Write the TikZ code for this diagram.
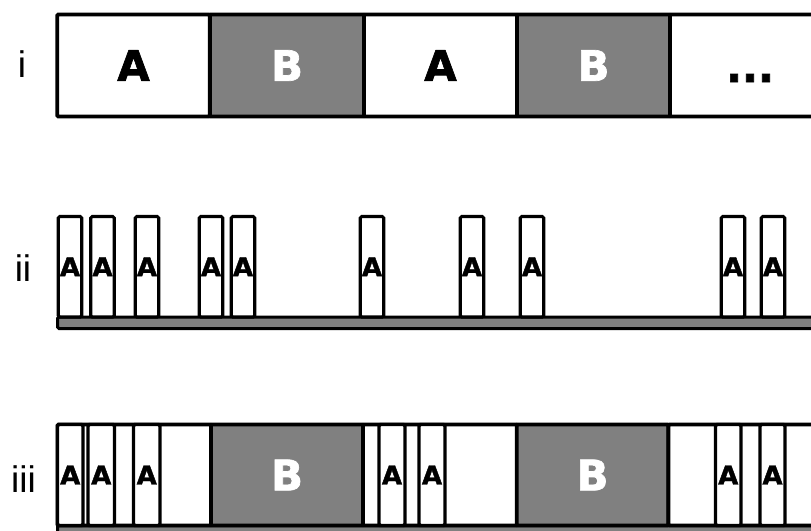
\documentclass[tikz,border=0pt]{standalone}
\usepackage{fontspec}
\setmainfont{DejaVu Sans}[BoldFeatures={FakeBold=1.6}]
\newfontfamily\labfont{Liberation Sans}
\definecolor{bgray}{HTML}{808080}
\begin{document}
\begin{tikzpicture}[x=1pt,y=-1pt,
  cell/.style={rectangle, draw=black, line width=3.7pt, inner sep=0pt, rounded corners=1pt,
    font=\fontsize{42}{42}\selectfont\bfseries},
  cellw/.style={cell, fill=white},
  cellb/.style={cell, fill=bgray, text=white},
  slot/.style={rectangle, draw=black, line width=3.1pt, fill=white, inner sep=0pt, rounded corners=1.5pt,
    font=\fontsize{26}{26}\selectfont\bfseries},
  bar/.style={rectangle, draw=black, line width=3pt, fill=bgray, inner sep=0pt, rounded corners=1.5pt},
  rowlab/.style={inner sep=0pt, font=\labfont\fontsize{37}{37}\selectfont},
]
\useasboundingbox (0,0) rectangle (811,530);
\clip (0,0) rectangle (811,530);

% labels
\node[rowlab] (lab1) at (22,64) {i};
\node[rowlab] (lab2) at (23,268) {ii};
\node[rowlab] (lab3) at (23.5,479) {iii};

% row i
\node[cellw, minimum width=152.5pt, minimum height=102pt] (r1c1) at (133.5,65.5) {A};
\node[cellb, minimum width=154pt, minimum height=102pt] (r1c2) at (287,65.5) {B};
\node[cellw, minimum width=153pt, minimum height=102pt] (r1c3) at (440.5,65.5) {A};
\node[cellb, minimum width=153pt, minimum height=102pt] (r1c4) at (593.5,65.5) {B};
\node[cellw, minimum width=160pt, minimum height=102pt, text height=33pt, text depth=0pt] (r1c5) at (750,65.5) {...};

% row ii
\node[bar, minimum width=780pt, minimum height=11.5pt] (bar2) at (447.5,322.75) {};
\foreach \n/\cx in {1/70, 2/102.5, 3/147, 4/211, 5/243, 6/372, 7/472, 8/532, 9/733, 10/773}{
  \node[slot, minimum width=23.5pt, minimum height=100.5pt] (r2s\n) at (\cx,266.75) {A};
}

% row iii
\node[bar, minimum width=780pt, minimum height=11.5pt] (bar3) at (447.5,531.25) {};
\node[cellw, minimum width=153.5pt, minimum height=101pt] (r3c1) at (134.25,475) {};
\node[cellb, minimum width=152pt, minimum height=101pt] (r3c2) at (287,475) {B};
\node[cellw, minimum width=154pt, minimum height=101pt] (r3c3) at (440,475) {};
\node[cellb, minimum width=151.5pt, minimum height=101pt] (r3c4) at (592.5,475) {B};
\node[cellw, minimum width=160pt, minimum height=101pt] (r3c5) at (748.5,475) {};
\foreach \n/\l/\r in {1/57.5/83, 2/88/114.5, 3/133.5/160, 4/379/405, 5/419/445, 6/715.5/741, 7/760/785}{
  \node[slot, line width=3.2pt, minimum width=\r-\l, minimum height=101pt] (r3s\n) at ({(\l+\r)/2},475) {A};
}
\end{tikzpicture}
\end{document}
